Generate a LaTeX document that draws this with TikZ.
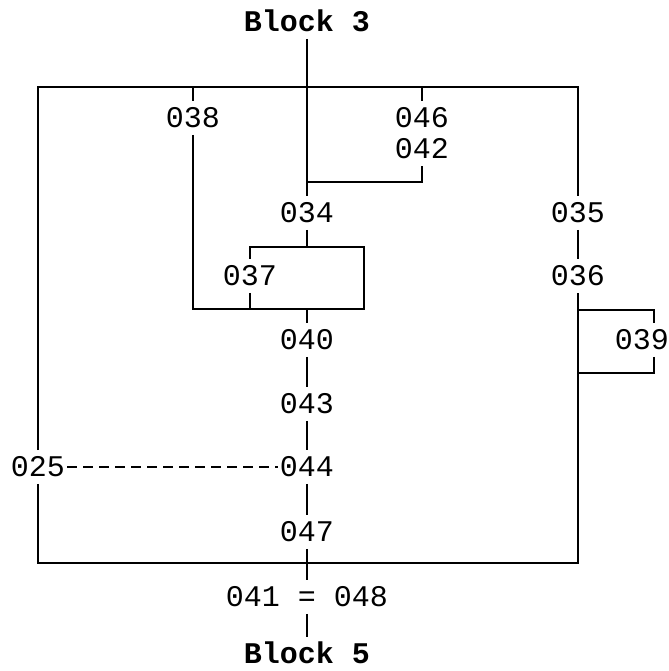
\documentclass[tikz,border=0pt]{standalone}
\usepackage{fontspec}
\setmonofont{Liberation Mono}
\usepackage{tikz}
\usetikzlibrary{positioning}

\begin{document}
\begin{tikzpicture}[
    x=0.5pt, y=-0.5pt,
    font=\ttfamily\fontsize{15}{18}\selectfont,
    num/.style={inner xsep=1pt,inner ysep=3.5pt,text height=9.4pt,text depth=0pt},
    blockname/.style={num,font=\ttfamily\bfseries\fontsize{15}{18}\selectfont},
    wire/.style={line width=1pt},
    dashwire/.style={wire,dash pattern=on 5pt off 3pt}
]
\useasboundingbox (0,0) rectangle (669,671);

% block names
\node[blockname] (blk3) at (307,22) {Block 3};
\node[blockname] (blk5) at (307,654) {Block 5};

% numbered points
\node[num] (n038) at (193,118) {038};
\node[num] (n046) at (422,118) {046};
\node[num] (n042) at (422,149) {042};
\node[num] (n034) at (307,213) {034};
\node[num] (n035) at (578,213) {035};
\node[num] (n036) at (578,276) {036};
\node[num] (n037) at (250,276) {037};
\node[num] (n040) at (307,340) {040};
\node[num] (n039) at (642,340) {039};
\node[num] (n043) at (307,404) {043};
\node[num] (n025) at (38,467) {025};
\node[num] (n044) at (307,467) {044};
\node[num] (n047) at (307,532) {047};
\node[num] (n4148) at (307,597) {041 = 048};

% corners and junctions
\coordinate (tl) at (38,87);
\coordinate (tr) at (578,87);
\coordinate (bl) at (38,563);
\coordinate (br) at (578,563);
\coordinate (t38) at (193,87);
\coordinate (t46) at (422,87);
\coordinate (j42) at (307,182);
\coordinate (boxtl) at (250,247);
\coordinate (boxtr) at (364,247);
\coordinate (boxbr) at (364,309);
\coordinate (boxbl) at (250,309);
\coordinate (m34) at (307,247);
\coordinate (m40) at (307,309);
\coordinate (c39a) at (578,310);
\coordinate (c39b) at (654,310);
\coordinate (c39c) at (654,373);
\coordinate (c39d) at (578,373);

% outer loop
\draw[wire] (n025) -- (tl) -- (tr) -- (n035);
\draw[wire] (n035) -- (n036);
\draw[wire] (n025) -- (bl) -- (br) -- (n036);

% from block 3
\draw[wire] (blk3) -- (n034);
\draw[wire] (j42) -| (n042);
\draw[wire] (t46) -- (n046);
\draw[wire] (n034) -- (m34);

% left branch and inner box
\draw[wire] (t38) -- (n038);
\draw[wire] (n038) |- (boxbr) -- (boxtr) -- (boxtl) -- (n037);
\draw[wire] (n037) -- (boxbl);

% main run to block 5
\draw[wire] (m40) -- (n040);
\draw[wire] (n040) -- (n043);
\draw[wire] (n043) -- (n044);
\draw[wire] (n044) -- (n047);
\draw[wire] (n047) -- (n4148);
\draw[wire] (n4148) -- (blk5);
\draw[dashwire] (n025) -- (n044);

% side loop at 039
\draw[wire] (c39a) -- (c39b) -- (c39b |- n039.north);
\draw[wire] (c39b |- n039.south) -- (c39c) -- (c39d);
\end{tikzpicture}
\end{document}
